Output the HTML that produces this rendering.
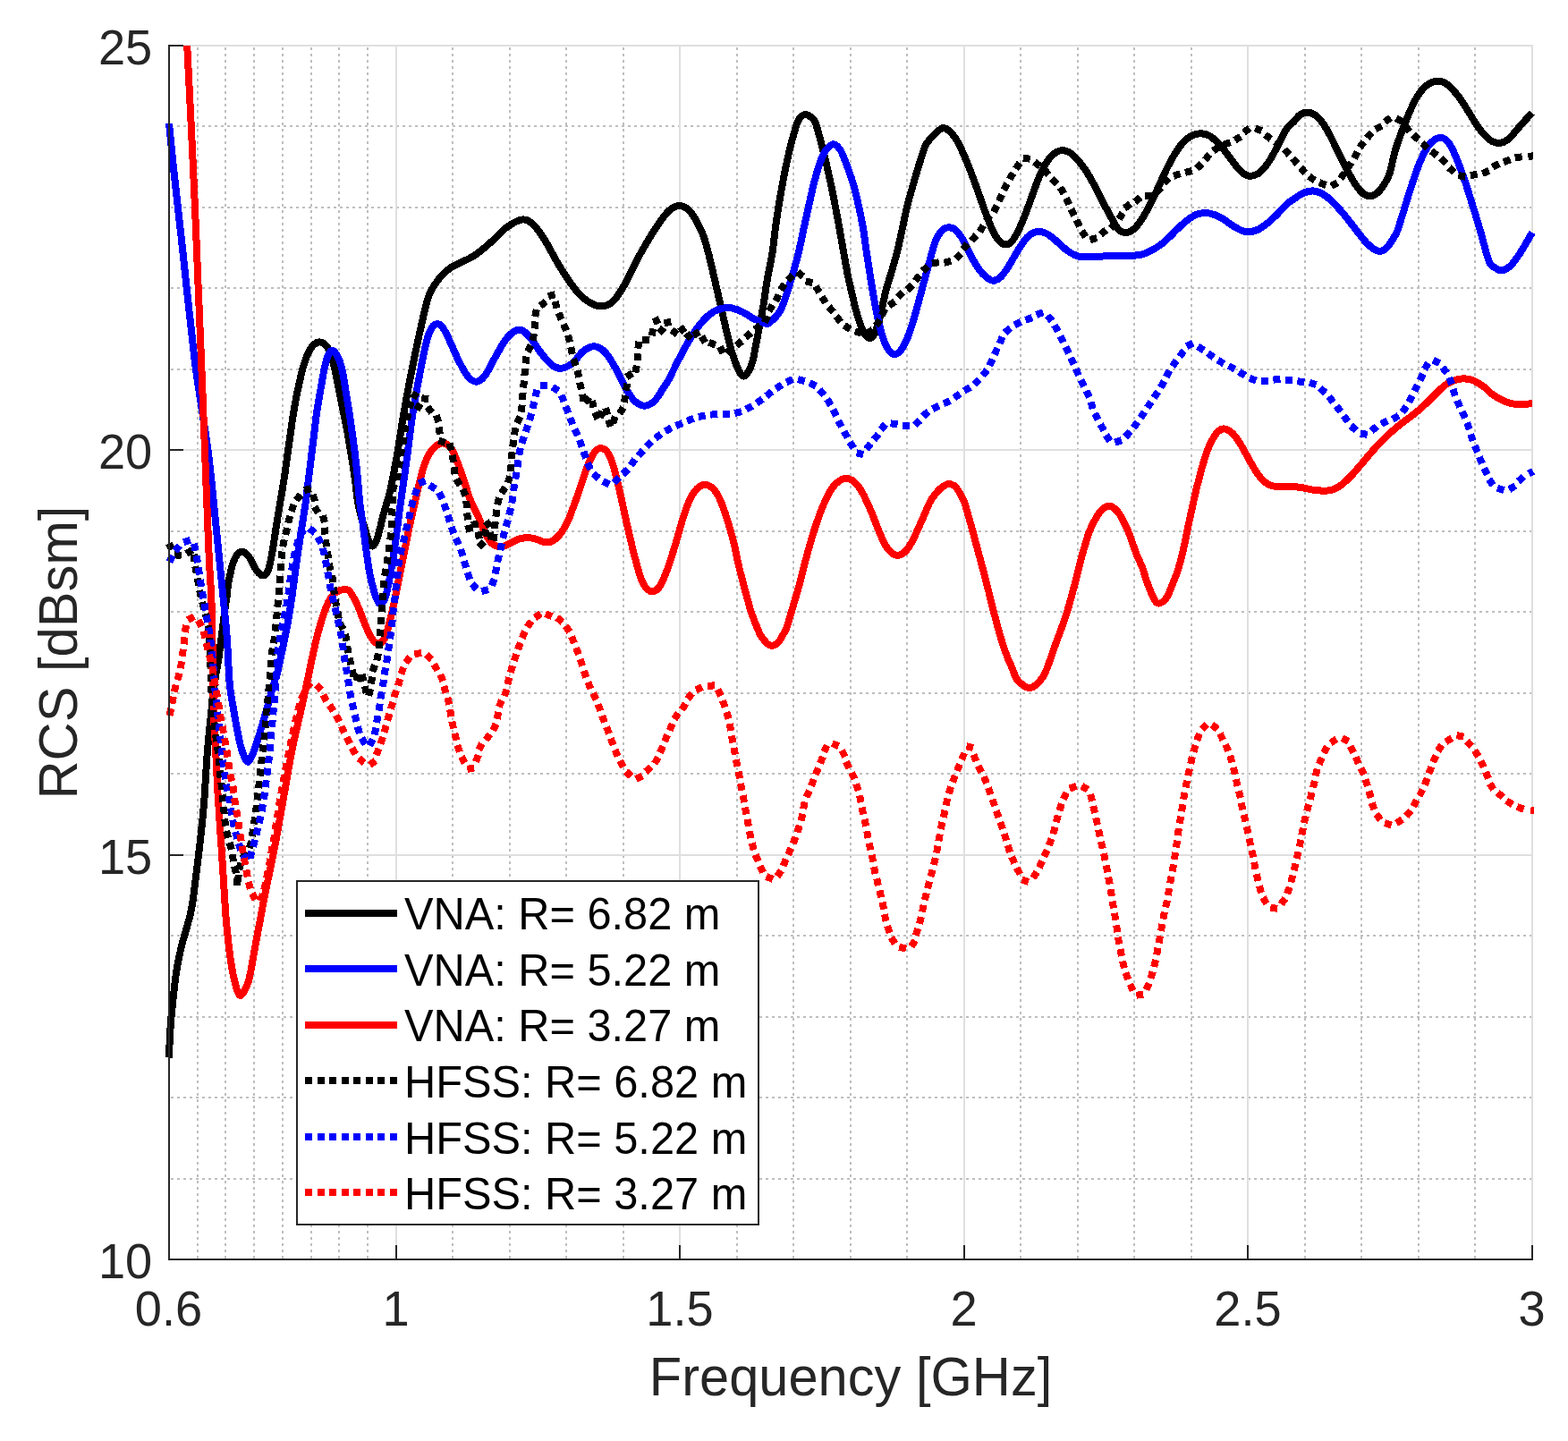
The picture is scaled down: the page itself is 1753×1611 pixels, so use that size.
<!DOCTYPE html>
<html lang="en"><head><meta charset="utf-8"><title>RCS vs Frequency</title>
<style>html,body{margin:0;padding:0;background:#fff;}body{width:1753px;height:1611px;overflow:hidden;}svg{display:block;}text{font-family:"Liberation Sans", Arial, Helvetica, sans-serif;}</style>
</head><body>
<svg xmlns="http://www.w3.org/2000/svg" width="1753" height="1611" viewBox="0 0 1753 1611">
<rect x="0" y="0" width="1753" height="1611" fill="#ffffff"/>
<g stroke="#bebebe" stroke-width="2" stroke-dasharray="3 4" fill="none" shape-rendering="crispEdges">
<line x1="221.0" y1="53.0" x2="221.0" y2="1408.0"/>
<line x1="252.0" y1="53.0" x2="252.0" y2="1408.0"/>
<line x1="284.0" y1="53.0" x2="284.0" y2="1408.0"/>
<line x1="316.0" y1="53.0" x2="316.0" y2="1408.0"/>
<line x1="348.0" y1="53.0" x2="348.0" y2="1408.0"/>
<line x1="379.0" y1="53.0" x2="379.0" y2="1408.0"/>
<line x1="411.0" y1="53.0" x2="411.0" y2="1408.0"/>
<line x1="506.0" y1="53.0" x2="506.0" y2="1408.0"/>
<line x1="570.0" y1="53.0" x2="570.0" y2="1408.0"/>
<line x1="633.0" y1="53.0" x2="633.0" y2="1408.0"/>
<line x1="697.0" y1="53.0" x2="697.0" y2="1408.0"/>
<line x1="824.0" y1="53.0" x2="824.0" y2="1408.0"/>
<line x1="887.0" y1="53.0" x2="887.0" y2="1408.0"/>
<line x1="951.0" y1="53.0" x2="951.0" y2="1408.0"/>
<line x1="1014.0" y1="53.0" x2="1014.0" y2="1408.0"/>
<line x1="1141.0" y1="53.0" x2="1141.0" y2="1408.0"/>
<line x1="1205.0" y1="53.0" x2="1205.0" y2="1408.0"/>
<line x1="1268.0" y1="53.0" x2="1268.0" y2="1408.0"/>
<line x1="1332.0" y1="53.0" x2="1332.0" y2="1408.0"/>
<line x1="1459.0" y1="53.0" x2="1459.0" y2="1408.0"/>
<line x1="1522.0" y1="53.0" x2="1522.0" y2="1408.0"/>
<line x1="1586.0" y1="53.0" x2="1586.0" y2="1408.0"/>
<line x1="1649.0" y1="53.0" x2="1649.0" y2="1408.0"/>
<line x1="191.0" y1="1318.0" x2="1713.0" y2="1318.0"/>
<line x1="191.0" y1="1227.0" x2="1713.0" y2="1227.0"/>
<line x1="191.0" y1="1137.0" x2="1713.0" y2="1137.0"/>
<line x1="191.0" y1="1046.0" x2="1713.0" y2="1046.0"/>
<line x1="191.0" y1="865.0" x2="1713.0" y2="865.0"/>
<line x1="191.0" y1="775.0" x2="1713.0" y2="775.0"/>
<line x1="191.0" y1="684.0" x2="1713.0" y2="684.0"/>
<line x1="191.0" y1="594.0" x2="1713.0" y2="594.0"/>
<line x1="191.0" y1="413.0" x2="1713.0" y2="413.0"/>
<line x1="191.0" y1="322.0" x2="1713.0" y2="322.0"/>
<line x1="191.0" y1="232.0" x2="1713.0" y2="232.0"/>
<line x1="191.0" y1="141.0" x2="1713.0" y2="141.0"/>
</g>
<g stroke="#dfdfdf" stroke-width="2" fill="none" shape-rendering="crispEdges">
<line x1="443.0" y1="50.0" x2="443.0" y2="1408.0"/>
<line x1="760.0" y1="50.0" x2="760.0" y2="1408.0"/>
<line x1="1078.0" y1="50.0" x2="1078.0" y2="1408.0"/>
<line x1="1395.0" y1="50.0" x2="1395.0" y2="1408.0"/>
<line x1="1713.0" y1="50.0" x2="1713.0" y2="1408.0"/>
<line x1="189.0" y1="956.0" x2="1714.0" y2="956.0"/>
<line x1="189.0" y1="503.0" x2="1714.0" y2="503.0"/>
<line x1="189.0" y1="51.0" x2="1714.0" y2="51.0"/>
</g>
<g fill="none" stroke-width="8" stroke-linejoin="round" stroke-linecap="butt" shape-rendering="crispEdges">
<path d="M188.9 1182.5C189.1 1178.4 189.6 1165.1 190.0 1158.0C190.4 1150.9 190.8 1145.5 191.2 1140.0C191.6 1134.5 192.1 1130.7 192.7 1125.0C193.3 1119.3 194.0 1112.2 194.7 1106.0C195.4 1099.8 196.1 1093.3 197.0 1087.5C197.9 1081.7 198.9 1076.2 200.0 1071.0C201.1 1065.8 202.1 1061.0 203.4 1056.0C204.7 1051.0 206.2 1046.2 207.7 1041.0C209.1 1035.8 210.9 1030.0 212.1 1025.0C213.3 1020.0 214.3 1015.2 215.0 1011.0C215.7 1006.8 215.2 1010.2 216.5 1000.0C217.8 989.8 220.8 966.7 222.7 950.0C224.6 933.3 226.4 918.3 227.9 900.0C229.4 881.7 230.4 858.3 231.9 840.0C233.4 821.7 235.5 803.5 236.9 790.0C238.3 776.5 239.4 767.5 240.6 758.7C241.8 749.9 243.0 746.2 244.3 737.0C245.7 727.8 247.4 713.4 248.7 703.7C249.9 694.0 251.0 685.0 251.8 678.7C252.6 672.5 253.2 670.4 253.7 666.2C254.2 662.0 254.4 657.9 255.0 653.7C255.6 649.5 256.5 645.6 257.5 641.2C258.5 636.8 259.8 631.2 261.2 627.5C262.6 623.8 264.5 620.5 266.2 618.7C267.9 616.9 269.3 616.5 271.2 616.9C273.1 617.3 275.6 619.0 277.5 621.2C279.4 623.4 280.8 627.1 282.5 630.0C284.2 632.9 285.6 636.5 287.5 638.7C289.4 641.0 291.8 643.3 293.7 643.5C295.6 643.7 297.3 642.2 298.7 640.0C300.1 637.8 300.8 634.4 301.9 630.0C302.9 625.6 304.1 619.1 305.0 613.7C305.9 608.3 306.7 602.9 307.5 597.5C308.3 592.1 309.2 586.4 310.0 581.2C310.8 576.0 311.2 573.9 312.5 566.2C313.8 558.5 316.2 544.4 317.7 535.0C319.1 525.6 320.0 518.3 321.2 510.0C322.4 501.7 323.5 493.3 324.7 485.0C325.9 476.7 327.0 468.3 328.4 460.0C329.8 451.7 331.3 443.3 333.1 435.0C334.9 426.7 337.0 416.9 339.0 410.0C341.0 403.1 343.0 397.9 345.0 393.7C347.0 389.5 349.0 386.9 351.2 385.0C353.4 383.1 355.8 382.2 358.1 382.5C360.4 382.8 363.0 384.4 365.0 386.9C367.0 389.4 368.6 393.6 370.0 397.5C371.4 401.4 372.4 404.8 373.7 410.0C374.9 415.2 376.2 422.4 377.5 428.7C378.8 434.9 379.9 441.2 381.2 447.5C382.4 453.8 383.8 459.9 385.0 466.2C386.2 472.4 387.6 478.8 388.7 485.0C389.8 491.2 390.8 497.4 391.8 503.7C392.9 509.9 394.1 516.2 395.0 522.5C395.9 528.8 396.7 534.8 397.5 541.2C398.3 547.6 399.0 555.0 400.0 561.0C401.0 567.0 402.2 572.0 403.7 577.5C405.1 583.0 407.2 589.1 408.7 593.7C410.2 598.3 411.2 602.2 412.5 605.0C413.8 607.8 414.8 610.6 416.2 610.6C417.6 610.6 419.1 608.4 420.6 605.0C422.1 601.6 423.6 595.0 425.0 590.0C426.4 585.0 427.3 580.2 428.7 575.0C430.1 569.8 432.0 564.0 433.4 559.0C434.8 554.0 435.3 553.2 437.0 545.0C438.7 536.8 441.2 524.2 443.7 510.0C446.2 495.8 448.9 476.7 451.8 460.0C454.7 443.3 458.0 426.0 461.2 410.0C464.4 394.0 467.9 377.4 471.0 364.0C474.1 350.6 476.3 338.9 479.8 329.8C483.4 320.8 488.2 315.1 492.3 309.8C496.5 304.6 498.6 302.6 504.8 298.6C511.1 294.6 522.3 290.9 529.8 286.1C537.3 281.3 543.5 275.3 549.8 269.9C556.0 264.5 561.4 257.7 567.3 253.6C573.1 249.5 579.7 245.6 584.8 245.4C589.8 245.2 593.3 248.3 597.5 252.4C601.7 256.5 605.8 263.2 610.0 269.9C614.1 276.5 618.3 285.3 622.5 292.4C626.6 299.4 630.8 306.3 635.0 312.3C639.1 318.4 643.3 324.2 647.4 328.6C651.6 333.0 655.8 336.3 659.9 338.6C664.1 340.9 668.3 342.5 672.4 342.3C676.6 342.1 680.8 341.1 684.9 337.3C689.1 333.6 693.3 326.9 697.4 319.8C701.6 312.8 705.7 302.8 709.9 294.9C714.1 286.9 718.2 279.4 722.4 272.4C726.6 265.3 730.7 258.4 734.9 252.4C739.1 246.3 743.2 239.9 747.4 236.1C751.6 232.4 755.7 229.7 759.9 229.9C764.0 230.1 768.2 232.4 772.4 237.4C776.5 242.4 781.7 252.8 784.9 259.9C788.0 267.0 789.5 274.1 791.2 280.0C792.9 285.9 793.7 289.8 794.9 295.0C796.2 300.2 797.4 305.8 798.7 311.2C799.9 316.6 801.2 322.3 802.4 327.5C803.6 332.7 804.8 337.5 805.9 342.5C807.1 347.5 808.1 352.3 809.3 357.5C810.5 362.7 811.8 368.5 813.1 373.7C814.3 378.9 815.4 383.9 816.8 388.7C818.2 393.5 819.6 398.1 821.2 402.4C822.7 406.8 824.5 411.9 826.2 414.9C827.8 417.9 829.5 420.3 831.2 420.5C832.8 420.8 834.5 418.8 836.2 416.2C837.8 413.6 839.8 409.3 841.2 404.9C842.5 400.6 843.3 394.9 844.3 389.9C845.3 384.9 846.2 380.2 847.2 374.9C848.1 369.7 849.1 364.1 850.2 358.7C851.2 353.3 852.4 347.7 853.3 342.5C854.2 337.3 854.7 332.7 855.5 327.5C856.3 322.3 856.7 319.0 858.0 311.2C859.4 303.5 862.3 290.4 863.7 281.0C865.2 271.6 865.7 263.4 866.9 254.9C868.0 246.4 869.3 238.2 870.6 229.9C872.0 221.6 873.4 213.3 875.0 204.9C876.5 196.6 878.1 188.3 880.0 179.9C881.8 171.6 884.0 162.2 886.0 155.0C888.0 147.7 890.1 140.4 891.8 136.2C893.6 132.1 894.7 131.3 896.2 130.0C897.7 128.6 899.3 128.0 901.0 128.1C902.6 128.2 904.5 129.2 906.2 130.6C907.9 131.9 909.4 132.2 911.2 136.2C913.0 140.3 914.9 147.7 916.8 155.0C918.8 162.2 921.1 171.6 923.1 179.9C925.1 188.3 926.9 196.6 928.7 204.9C930.5 213.3 932.1 221.6 933.7 229.9C935.3 238.2 936.3 242.8 938.4 254.9C940.6 267.0 944.9 292.1 946.8 302.5C948.7 312.9 948.9 312.3 950.0 317.5C951.1 322.7 952.5 328.5 953.7 333.7C955.0 338.9 956.1 343.9 957.5 348.7C958.9 353.5 960.3 358.5 961.8 362.5C963.2 366.5 964.5 369.9 966.2 372.5C967.9 375.1 970.0 377.9 971.9 378.1C973.8 378.3 976.0 376.1 977.5 373.7C979.0 371.3 980.0 367.6 981.2 363.7C982.5 359.8 983.9 354.8 985.0 350.0C986.1 345.2 987.0 339.8 988.1 335.0C989.2 330.2 990.3 325.5 991.5 321.0C992.7 316.5 994.2 312.3 995.5 308.0C996.8 303.7 998.0 299.5 999.3 295.0C1000.6 290.5 1001.7 287.2 1003.2 281.0C1004.7 274.8 1006.5 266.2 1008.3 258.0C1010.1 249.8 1011.8 240.7 1013.9 232.0C1016.0 223.3 1018.5 214.7 1021.0 206.0C1023.5 197.3 1026.4 187.5 1028.8 180.0C1031.2 172.5 1032.6 166.4 1035.5 161.2C1038.4 156.0 1043.1 151.7 1046.2 148.7C1049.4 145.7 1051.7 143.3 1054.4 143.1C1057.1 142.9 1059.9 145.1 1062.5 147.5C1065.1 149.9 1067.7 153.7 1070.0 157.5C1072.3 161.2 1074.1 165.4 1076.2 170.0C1078.3 174.6 1080.4 179.8 1082.5 185.0C1084.6 190.2 1086.6 195.6 1088.7 201.2C1090.8 206.8 1092.9 212.9 1095.0 218.7C1097.1 224.5 1099.1 230.6 1101.2 236.2C1103.3 241.8 1105.4 247.6 1107.5 252.4C1109.5 257.2 1111.6 261.7 1113.7 264.9C1115.8 268.1 1118.1 270.4 1120.0 271.8C1121.8 273.2 1123.1 273.7 1125.0 273.4C1126.8 273.1 1129.1 272.2 1131.2 269.9C1133.3 267.7 1135.4 263.9 1137.4 259.9C1139.5 256.0 1141.6 251.2 1143.7 246.2C1145.8 241.2 1147.9 235.6 1149.9 229.9C1152.0 224.3 1154.1 218.1 1156.2 212.4C1158.3 206.8 1160.3 201.0 1162.4 196.2C1164.5 191.4 1166.6 187.3 1168.7 183.7C1170.8 180.2 1172.8 177.3 1174.9 175.0C1177.0 172.7 1179.1 171.1 1181.2 170.0C1183.3 168.8 1185.1 168.1 1187.4 168.1C1189.7 168.1 1192.4 168.6 1194.9 170.0C1197.4 171.3 1199.9 173.7 1202.4 176.2C1204.9 178.7 1207.4 181.6 1209.9 185.0C1212.4 188.3 1214.9 192.0 1217.4 196.2C1219.9 200.4 1222.4 205.2 1224.9 209.9C1227.4 214.7 1229.9 220.2 1232.4 224.9C1234.9 229.7 1237.6 234.5 1239.9 238.7C1242.2 242.8 1244.2 246.8 1246.1 249.9C1248.0 253.0 1249.0 255.8 1251.2 257.4C1253.4 259.1 1256.7 260.1 1259.4 259.9C1262.1 259.7 1264.9 258.2 1267.5 256.2C1270.1 254.1 1272.5 251.0 1275.0 247.4C1277.5 243.9 1280.0 239.5 1282.5 234.9C1285.0 230.3 1287.5 225.1 1290.0 219.9C1292.5 214.7 1295.0 209.1 1297.5 203.7C1300.0 198.3 1302.5 192.5 1305.0 187.5C1307.5 182.5 1310.0 177.9 1312.5 173.7C1315.0 169.5 1317.5 165.6 1320.0 162.5C1322.5 159.3 1325.0 157.0 1327.4 155.0C1329.9 153.0 1332.2 151.5 1334.9 150.6C1337.7 149.7 1340.8 149.1 1343.7 149.4C1346.6 149.6 1349.7 150.4 1352.4 151.9C1355.1 153.3 1357.4 155.7 1359.9 158.1C1362.4 160.5 1364.9 163.2 1367.4 166.2C1369.9 169.2 1372.4 172.9 1374.9 176.2C1377.4 179.5 1379.9 183.3 1382.4 186.2C1384.9 189.1 1387.4 191.9 1389.9 193.7C1392.4 195.5 1394.7 196.7 1397.4 196.8C1400.1 196.9 1403.4 195.9 1406.2 194.3C1408.9 192.8 1411.4 190.1 1413.7 187.5C1415.9 184.9 1417.8 182.0 1419.9 178.7C1422.0 175.4 1424.1 171.4 1426.1 167.5C1428.2 163.5 1430.3 158.9 1432.4 155.0C1434.5 151.0 1436.3 146.9 1438.6 143.7C1440.9 140.6 1443.7 138.8 1446.2 136.2C1448.8 133.6 1451.0 129.9 1453.7 128.1C1456.4 126.3 1459.6 125.4 1462.5 125.6C1465.4 125.8 1468.5 127.4 1471.2 129.4C1473.9 131.3 1476.2 134.0 1478.7 137.5C1481.2 140.9 1483.7 145.4 1486.2 150.0C1488.7 154.6 1491.2 160.0 1493.7 165.0C1496.2 170.0 1498.7 175.0 1501.2 180.0C1503.7 185.0 1506.2 190.4 1508.7 194.9C1511.2 199.5 1513.7 203.9 1516.2 207.4C1518.7 211.0 1521.1 214.2 1523.7 216.2C1526.3 218.2 1529.1 219.4 1531.8 219.3C1534.5 219.2 1537.3 217.7 1539.9 215.6C1542.5 213.4 1545.1 209.8 1547.4 206.2C1549.7 202.5 1551.8 199.5 1553.7 193.7C1555.6 187.9 1557.1 178.1 1559.0 171.2C1560.9 164.3 1563.1 158.3 1565.2 152.4C1567.3 146.6 1569.4 141.4 1571.5 136.2C1573.6 131.0 1575.6 125.8 1577.7 121.2C1579.8 116.6 1581.9 112.3 1584.0 108.7C1586.1 105.2 1588.1 102.4 1590.2 100.0C1592.3 97.6 1594.4 95.8 1596.5 94.4C1598.5 92.9 1600.6 92.0 1602.7 91.5C1604.8 90.9 1606.9 90.8 1609.0 91.0C1611.0 91.1 1613.1 91.4 1615.2 92.5C1617.3 93.6 1619.4 95.5 1621.4 97.5C1623.5 99.5 1625.6 101.9 1627.7 104.3C1629.8 106.8 1631.9 109.5 1633.9 112.5C1636.0 115.5 1638.1 119.1 1640.2 122.5C1642.3 125.8 1644.4 129.1 1646.4 132.5C1648.5 135.8 1650.6 139.5 1652.7 142.5C1654.8 145.4 1656.8 147.7 1658.9 149.9C1661.0 152.2 1663.1 154.6 1665.2 156.2C1667.3 157.8 1669.7 158.7 1671.4 159.3C1673.2 159.9 1674.1 160.0 1675.8 159.9C1677.5 159.8 1679.4 159.6 1681.4 158.7C1683.4 157.8 1685.6 156.2 1687.7 154.3C1689.7 152.4 1691.8 149.8 1693.9 147.4C1696.0 145.1 1698.1 142.3 1700.2 140.0C1702.2 137.6 1704.3 135.4 1706.4 133.1C1708.5 130.8 1711.9 127.4 1713.0 126.2" stroke="#000000"/>
<path d="M189.0 137.9C189.9 146.6 192.5 173.3 194.2 189.9C196.0 206.5 197.8 222.4 199.5 237.4C201.2 252.4 202.7 265.7 204.2 279.9C205.8 294.0 207.1 307.3 208.7 322.3C210.4 337.3 212.2 354.4 214.0 369.8C215.7 385.2 216.1 392.6 219.2 414.8C222.3 437.0 229.2 479.0 232.5 503.2C235.7 527.4 237.1 545.3 238.7 560.0C240.3 574.7 240.8 580.8 241.8 591.2C242.9 601.6 243.9 612.1 245.0 622.5C246.1 632.9 247.1 643.3 248.1 653.7C249.1 664.1 250.2 674.6 251.2 685.0C252.2 695.4 253.1 702.9 254.0 716.2C254.9 729.5 255.7 752.7 256.8 765.0C257.9 777.3 259.2 781.7 260.6 790.0C262.0 798.3 263.4 807.1 265.0 815.0C266.6 822.9 268.0 831.4 270.0 837.5C272.0 843.6 274.5 851.4 276.8 851.8C279.1 852.2 281.5 845.1 283.7 840.0C285.9 834.9 287.8 827.9 289.9 821.2C292.0 814.5 294.2 806.9 296.2 800.0C298.2 793.1 299.9 786.7 301.8 780.0C303.7 773.3 305.8 765.4 307.4 760.0C309.0 754.6 308.5 759.9 311.2 747.4C313.9 734.9 320.2 705.8 323.7 685.0C327.2 664.2 329.4 643.2 332.4 622.5C335.4 601.8 339.7 575.6 341.8 561.0C343.9 546.4 343.9 543.5 345.0 535.0C346.1 526.5 347.1 518.3 348.1 510.0C349.1 501.7 350.2 493.3 351.2 485.0C352.2 476.7 353.1 468.3 354.3 460.0C355.5 451.7 357.0 443.3 358.5 435.0C360.0 426.7 361.7 416.2 363.1 410.0C364.5 403.8 365.5 400.5 366.8 397.5C368.1 394.5 369.6 392.1 371.2 391.9C372.8 391.7 374.4 393.2 376.2 396.2C378.0 399.2 380.1 403.5 381.8 410.0C383.5 416.5 384.8 426.7 386.2 435.0C387.6 443.3 389.0 451.7 390.3 460.0C391.6 468.3 392.8 476.7 393.9 485.0C395.0 493.3 396.2 501.7 397.2 510.0C398.2 518.3 399.1 526.5 399.9 535.0C400.7 543.5 401.1 551.8 402.2 561.0C403.2 570.2 405.0 581.0 406.2 590.0C407.4 599.0 408.2 606.7 409.4 615.0C410.5 623.3 411.8 632.7 413.1 640.0C414.5 647.3 416.0 653.5 417.5 658.7C419.0 663.9 420.5 668.4 421.9 671.2C423.2 674.0 424.2 675.7 425.6 675.5C427.0 675.3 428.6 673.2 430.0 670.0C431.4 666.8 432.6 661.2 433.7 656.2C434.8 651.2 435.8 645.8 436.8 640.0C437.9 634.2 439.1 627.5 440.0 621.2C440.9 615.0 441.7 608.8 442.5 602.5C443.3 596.2 444.2 590.0 445.0 583.7C445.8 577.5 445.8 577.3 447.5 565.0C449.2 552.7 452.8 527.5 455.2 510.0C457.6 492.5 459.2 476.7 461.8 460.0C464.4 443.3 468.3 423.3 470.9 410.0C473.5 396.7 475.3 387.3 477.3 380.0C479.3 372.7 481.1 368.9 483.0 366.0C484.9 363.1 486.8 362.5 488.6 362.3C490.4 362.1 492.1 362.9 494.0 365.0C495.9 367.1 496.7 368.6 499.8 374.8C502.9 381.0 508.6 394.8 512.3 402.3C516.1 409.8 519.0 415.7 522.3 419.8C525.6 423.9 529.0 426.8 532.3 426.8C535.6 426.8 538.5 424.7 542.3 419.8C546.0 414.9 550.6 404.4 554.8 397.3C558.9 390.2 562.9 382.1 567.3 377.3C571.6 372.5 576.8 368.6 581.0 368.6C585.2 368.6 588.5 372.9 592.5 377.3C596.5 381.7 600.8 389.6 605.0 394.8C609.1 400.0 613.7 405.7 617.5 408.5C621.2 411.4 623.7 412.2 627.5 411.8C631.2 411.4 635.8 409.3 640.0 406.0C644.1 402.8 648.3 395.4 652.4 392.3C656.6 389.2 660.8 386.9 664.9 387.3C669.1 387.7 673.3 390.2 677.4 394.8C681.6 399.4 686.2 408.1 689.9 414.8C693.7 421.5 696.6 429.3 699.9 435.0C703.3 440.6 706.4 445.6 709.9 448.7C713.5 451.8 717.4 453.9 721.2 453.7C724.9 453.5 728.9 451.0 732.4 447.5C735.9 443.9 739.9 436.3 742.4 432.5C744.9 428.7 744.5 430.2 747.4 424.8C750.3 419.3 755.7 407.7 759.9 399.8C764.0 391.9 768.2 384.0 772.4 377.3C776.5 370.6 780.7 364.6 784.9 359.8C789.0 355.0 793.2 351.2 797.4 348.6C801.5 346.0 806.5 345.0 809.9 344.3C813.2 343.6 814.0 343.6 817.4 344.3C820.7 345.0 825.7 346.6 829.8 348.6C834.0 350.5 838.2 354.0 842.3 356.1C846.5 358.2 851.9 360.2 854.8 361.1C857.7 361.9 856.9 363.4 859.8 361.1C862.7 358.8 868.6 354.2 872.3 347.3C876.1 340.5 878.9 330.9 882.3 319.8C885.8 308.8 890.4 291.8 893.1 281.0C895.8 270.2 896.8 263.4 898.7 254.9C900.6 246.4 902.5 238.2 904.3 229.9C906.2 221.6 907.8 213.3 910.0 204.9C912.1 196.6 915.2 186.2 917.5 179.9C919.7 173.7 921.3 170.6 923.7 167.4C926.1 164.3 929.2 161.2 931.8 161.2C934.4 161.2 937.1 164.3 939.3 167.4C941.5 170.6 942.5 173.7 944.9 179.9C947.3 186.2 951.2 196.6 953.7 204.9C956.2 213.3 958.1 221.6 959.9 229.9C961.8 238.2 963.5 246.4 964.9 254.9C966.4 263.4 966.6 267.7 968.7 281.0C970.7 294.3 974.6 320.0 977.3 334.8C979.9 349.6 982.2 360.6 984.8 369.8C987.3 379.0 989.7 385.4 992.5 389.8C995.2 394.2 998.3 396.5 1001.2 396.0C1004.1 395.6 1007.3 391.7 1010.0 387.3C1012.7 382.9 1015.0 376.9 1017.5 369.8C1020.0 362.7 1022.5 353.6 1025.0 344.8C1027.4 336.1 1029.3 328.8 1032.4 317.3C1035.6 305.9 1041.0 285.1 1043.7 276.2C1046.5 267.2 1046.9 267.0 1048.7 263.7C1050.6 260.3 1052.8 257.7 1055.0 256.2C1057.2 254.6 1059.6 254.1 1061.9 254.3C1064.2 254.5 1066.3 255.2 1068.7 257.4C1071.1 259.6 1073.7 263.3 1076.2 267.4C1078.7 271.6 1081.2 277.6 1083.7 282.4C1086.2 287.2 1088.7 292.2 1091.2 296.1C1093.7 300.1 1096.2 303.4 1098.7 306.1C1101.2 308.8 1104.0 311.1 1106.2 312.4C1108.4 313.6 1109.8 314.1 1111.8 313.6C1113.9 313.2 1116.3 312.2 1118.7 309.9C1121.1 307.6 1123.7 303.6 1126.2 299.9C1128.7 296.1 1131.2 291.6 1133.7 287.4C1136.2 283.2 1138.7 278.7 1141.2 274.9C1143.7 271.2 1146.2 267.4 1148.7 264.9C1151.2 262.4 1153.8 260.9 1156.2 259.9C1158.6 258.9 1160.6 258.6 1163.1 258.9C1165.6 259.2 1168.6 260.4 1171.2 261.8C1173.8 263.2 1176.2 265.3 1178.7 267.4C1181.2 269.5 1183.7 272.1 1186.2 274.3C1188.7 276.5 1191.2 278.8 1193.7 280.5C1196.2 282.3 1198.7 283.8 1201.2 284.9C1203.7 286.0 1205.9 286.7 1208.7 287.2C1211.4 287.6 1214.3 287.5 1217.4 287.4C1220.5 287.3 1223.6 287.0 1227.4 286.8C1231.1 286.6 1236.6 286.3 1239.9 286.2C1243.2 286.0 1245.2 286.1 1247.3 286.1C1249.4 286.1 1249.5 286.2 1252.5 286.1C1255.4 286.1 1260.8 286.2 1265.0 285.9C1269.1 285.6 1273.7 285.3 1277.5 284.3C1281.2 283.3 1284.1 281.7 1287.5 279.9C1290.8 278.1 1294.1 276.2 1297.5 273.7C1300.8 271.2 1304.1 268.0 1307.5 264.9C1310.8 261.8 1314.1 258.0 1317.5 254.9C1320.8 251.8 1324.1 248.7 1327.4 246.2C1330.8 243.7 1334.1 241.3 1337.4 239.9C1340.8 238.6 1344.1 238.1 1347.4 238.1C1350.8 238.1 1354.1 238.8 1357.4 239.9C1360.8 241.1 1364.1 242.9 1367.4 244.9C1370.8 246.9 1374.1 249.7 1377.4 251.8C1380.8 253.9 1384.3 256.2 1387.4 257.4C1390.5 258.7 1393.0 259.4 1396.2 259.3C1399.3 259.2 1403.0 258.1 1406.2 256.8C1409.3 255.4 1412.0 253.4 1414.9 251.2C1417.8 249.0 1420.7 246.4 1423.6 243.7C1426.6 241.0 1429.5 237.8 1432.4 234.9C1435.3 232.0 1438.6 228.4 1441.1 226.2C1443.7 224.0 1445.0 223.5 1447.5 221.8C1450.0 220.1 1452.9 217.6 1456.2 216.2C1459.6 214.8 1463.9 213.4 1467.5 213.4C1471.0 213.4 1474.4 214.7 1477.5 216.2C1480.6 217.7 1483.3 219.9 1486.2 222.4C1489.1 224.9 1492.1 228.1 1495.0 231.2C1497.9 234.3 1500.8 237.6 1503.7 241.2C1506.6 244.7 1509.5 248.7 1512.5 252.4C1515.4 256.2 1518.5 260.3 1521.2 263.7C1523.9 267.0 1526.2 269.9 1528.7 272.4C1531.2 274.9 1533.9 277.3 1536.2 278.6C1538.5 280.0 1540.2 281.0 1542.4 280.8C1544.7 280.6 1546.9 280.7 1549.9 277.4C1553.0 274.1 1558.1 266.4 1560.9 261.0C1563.6 255.6 1564.7 250.3 1566.5 244.9C1568.3 239.5 1569.8 234.1 1571.5 228.7C1573.1 223.2 1574.8 217.6 1576.5 212.4C1578.1 207.2 1579.8 202.2 1581.5 197.4C1583.1 192.6 1584.8 187.8 1586.5 183.7C1588.1 179.5 1589.8 175.8 1591.5 172.4C1593.1 169.1 1594.8 166.1 1596.5 163.7C1598.1 161.3 1599.8 159.5 1601.5 158.1C1603.1 156.6 1604.8 155.6 1606.5 154.9C1608.1 154.3 1609.8 153.7 1611.5 153.9C1613.1 154.2 1614.8 154.8 1616.5 156.2C1618.1 157.6 1619.8 159.7 1621.4 162.4C1623.1 165.1 1624.8 168.7 1626.4 172.4C1628.1 176.2 1629.8 180.6 1631.4 184.9C1633.1 189.3 1634.8 193.9 1636.4 198.7C1638.1 203.5 1639.8 208.5 1641.4 213.7C1643.1 218.9 1644.8 224.5 1646.4 229.9C1648.1 235.3 1649.9 241.0 1651.4 246.1C1653.0 251.3 1653.6 253.3 1655.8 261.0C1658.0 268.7 1662.1 285.9 1664.8 292.4C1667.5 298.8 1669.8 298.2 1672.3 299.9C1674.8 301.5 1676.9 303.0 1679.8 302.3C1682.7 301.7 1686.5 299.4 1689.8 296.1C1693.1 292.8 1696.9 286.7 1699.8 282.4C1702.7 278.0 1705.1 273.6 1707.3 269.9C1709.5 266.1 1712.1 261.5 1713.0 259.9" stroke="#0000ff"/>
<path d="M209.2 51.0C210.0 65.8 212.3 109.7 213.7 139.9C215.2 170.2 216.6 202.0 218.0 232.4C219.3 262.8 220.5 291.9 221.7 322.3C223.0 352.7 223.9 375.2 225.5 414.8C227.1 454.4 229.8 525.4 231.2 560.0C232.6 594.6 232.8 601.7 233.7 622.5C234.6 643.3 236.1 657.1 236.9 685.0C237.7 712.9 238.0 764.2 238.7 790.0C239.4 815.8 240.4 823.3 241.2 840.0C242.0 856.7 242.6 871.7 243.7 890.0C244.8 908.3 246.5 931.7 247.7 950.0C248.9 968.3 250.1 987.5 250.9 1000.0C251.7 1012.5 251.8 1016.7 252.5 1025.0C253.2 1033.3 254.2 1042.3 255.0 1050.0C255.8 1057.7 256.6 1064.8 257.5 1071.0C258.4 1077.2 259.3 1082.7 260.2 1087.5C261.1 1092.3 262.2 1096.5 263.1 1100.0C264.0 1103.5 264.7 1106.5 265.6 1108.7C266.5 1110.9 267.7 1112.8 268.7 1113.0C269.7 1113.2 270.8 1111.5 271.8 1110.0C272.9 1108.5 274.0 1106.2 275.0 1104.0C276.0 1101.8 277.1 1099.7 278.0 1096.5C278.9 1093.3 279.6 1089.8 280.5 1085.0C281.4 1080.2 282.4 1073.8 283.5 1068.0C284.6 1062.2 285.5 1057.2 286.8 1050.0C288.1 1042.8 289.9 1033.3 291.5 1025.0C293.1 1016.7 293.7 1012.5 296.2 1000.0C298.7 987.5 303.3 966.7 306.5 950.0C309.7 933.3 312.3 918.3 315.6 900.0C318.9 881.7 322.6 858.3 326.2 840.0C329.8 821.7 334.5 803.2 337.4 790.0C340.3 776.8 341.8 769.8 343.7 761.0C345.6 752.2 346.8 745.5 348.7 737.0C350.6 728.5 352.8 718.0 354.9 710.0C357.0 702.0 359.0 695.0 361.1 688.7C363.2 682.5 365.3 676.7 367.4 672.5C369.5 668.3 371.5 665.8 373.6 663.7C375.7 661.6 378.0 660.7 379.9 660.0C381.8 659.3 383.2 659.3 384.9 659.3C386.6 659.3 388.3 658.6 390.0 660.0C391.7 661.4 393.3 664.6 395.0 667.5C396.7 670.4 398.3 673.8 400.0 677.5C401.7 681.2 403.3 685.8 405.0 690.0C406.7 694.2 408.3 698.8 410.0 702.5C411.7 706.2 413.3 709.8 415.0 712.5C416.7 715.2 418.3 717.6 420.0 718.7C421.7 719.8 423.3 719.8 425.0 719.0C426.7 718.2 428.6 716.5 430.0 713.7C431.4 711.0 432.4 706.9 433.7 702.5C434.9 698.1 436.2 692.7 437.5 687.5C438.8 682.3 439.9 677.0 441.2 671.2C442.4 665.4 443.8 658.8 445.0 652.5C446.2 646.2 447.4 640.0 448.7 633.7C449.9 627.5 451.2 621.2 452.5 615.0C453.8 608.8 454.9 602.2 456.2 596.2C457.4 590.2 458.8 584.3 460.0 578.7C461.2 573.1 462.3 568.8 463.7 562.5C465.1 556.2 467.0 547.7 468.6 541.0C470.2 534.3 471.7 528.0 473.6 522.4C475.5 516.8 477.6 511.3 479.9 507.4C482.2 503.4 484.7 500.7 487.4 498.7C490.1 496.7 493.2 494.9 496.1 495.5C499.0 496.1 502.4 498.6 504.9 502.0C507.4 505.4 509.3 511.5 511.2 516.2C513.1 520.9 514.5 525.2 516.2 530.0C517.9 534.8 519.5 540.0 521.2 545.0C522.9 550.0 524.1 555.0 526.2 560.0C528.3 565.0 531.6 570.4 533.7 575.0C535.8 579.6 537.0 583.5 538.7 587.5C540.4 591.5 542.0 595.6 543.7 598.7C545.4 601.8 547.0 604.3 548.7 606.2C550.4 608.1 552.0 609.2 553.7 610.0C555.4 610.8 556.8 611.2 558.7 611.2C560.6 611.2 562.8 610.7 564.9 610.0C567.0 609.3 569.0 607.8 571.1 606.8C573.2 605.8 575.3 604.5 577.4 603.7C579.5 602.9 581.5 602.2 583.6 601.8C585.7 601.4 587.8 601.2 589.9 601.2C592.0 601.2 594.0 601.4 596.1 601.8C598.2 602.2 600.2 603.0 602.4 603.7C604.5 604.4 606.7 605.9 609.0 606.2C611.3 606.5 614.0 606.4 616.2 605.6C618.5 604.7 620.4 603.2 622.5 601.2C624.6 599.2 626.7 596.8 628.7 593.7C630.8 590.6 632.9 587.0 635.0 582.4C637.1 577.9 639.1 571.8 641.2 566.2C643.3 560.6 645.4 554.7 647.5 548.7C649.6 542.7 651.6 535.8 653.7 530.0C655.8 524.1 657.9 518.1 660.0 513.7C662.1 509.4 664.1 505.8 666.2 503.7C668.3 501.7 670.4 501.0 672.5 501.2C674.5 501.4 676.8 502.7 678.7 505.0C680.6 507.3 682.3 511.2 683.7 515.0C685.2 518.7 686.2 522.9 687.5 527.5C688.7 532.1 690.0 537.3 691.2 542.5C692.5 547.7 693.7 553.1 695.0 558.7C696.2 564.3 697.4 570.6 698.7 576.2C699.9 581.8 701.2 587.0 702.4 592.4C703.7 597.8 704.9 603.5 706.2 608.7C707.4 613.9 708.7 618.9 709.9 623.7C711.2 628.5 712.4 633.2 713.7 637.4C714.9 641.6 716.0 645.3 717.4 648.7C718.9 652.0 720.5 655.3 722.4 657.4C724.4 659.5 727.0 661.4 729.3 661.4C731.6 661.4 734.2 659.5 736.2 657.4C738.2 655.3 739.5 652.2 741.2 648.7C742.8 645.1 744.5 640.7 746.2 636.2C747.8 631.6 749.5 626.4 751.2 621.2C752.8 616.0 754.5 610.5 756.2 604.9C757.8 599.3 759.5 593.1 761.2 587.4C762.8 581.8 764.5 576.0 766.2 571.2C767.8 566.4 769.5 562.2 771.2 558.7C772.8 555.2 774.3 552.5 776.2 550.0C778.0 547.5 780.3 545.1 782.4 543.7C784.5 542.4 786.6 541.7 788.6 541.8C790.7 541.9 792.8 542.8 794.9 544.3C797.0 545.9 799.3 548.4 801.1 551.2C803.0 554.0 804.5 557.2 806.1 561.2C807.8 565.2 809.5 569.9 811.1 574.9C812.8 579.9 814.5 585.4 816.1 591.2C817.8 597.0 819.7 603.7 821.1 609.9C822.6 616.2 823.5 622.2 825.0 628.7C826.5 635.1 828.3 642.2 830.0 648.7C831.7 655.1 833.3 661.4 835.0 667.4C836.7 673.4 838.1 679.3 840.0 684.9C841.9 690.5 844.5 696.7 846.2 701.0C848.0 705.3 848.6 707.4 850.5 710.5C852.4 713.6 855.6 717.6 857.8 719.5C860.0 721.4 861.4 722.1 863.5 721.8C865.6 721.5 868.4 719.7 870.5 717.5C872.6 715.3 874.5 711.2 876.0 708.5C877.5 705.8 878.3 705.0 879.7 701.0C881.2 697.0 883.0 689.9 884.7 684.3C886.4 678.7 888.0 673.1 889.7 667.4C891.4 661.7 892.8 657.0 894.7 649.9C896.6 642.8 898.4 634.3 901.0 624.9C903.5 615.6 907.4 602.1 909.9 593.8C912.5 585.5 914.1 581.2 916.4 575.0C918.8 568.7 921.8 561.4 924.3 556.2C926.9 551.0 929.4 546.8 931.8 543.7C934.2 540.6 936.4 539.0 938.7 537.5C941.0 536.0 943.3 534.7 945.6 534.6C947.8 534.5 950.2 535.5 952.4 536.9C954.6 538.2 956.8 540.3 958.7 542.5C960.5 544.7 962.0 547.1 963.7 550.0C965.3 552.9 967.0 556.4 968.7 560.0C970.3 563.5 972.0 567.3 973.7 571.2C975.3 575.2 977.0 579.5 978.7 583.7C980.3 587.9 982.0 592.2 983.7 596.2C985.3 600.2 987.0 604.3 988.7 607.4C990.3 610.6 992.0 613.0 993.7 614.9C995.3 616.9 997.0 618.3 998.6 619.3C1000.3 620.3 1002.0 620.9 1003.6 620.9C1005.3 620.9 1007.0 620.3 1008.6 619.3C1010.3 618.3 1012.0 616.9 1013.6 614.9C1015.3 613.0 1017.0 610.4 1018.6 607.4C1020.3 604.5 1022.0 601.0 1023.6 597.4C1025.3 593.9 1027.0 589.9 1028.6 586.2C1030.3 582.5 1031.9 578.9 1033.6 575.0C1035.4 571.0 1037.2 566.0 1039.0 562.5C1040.8 559.0 1042.4 556.7 1044.5 554.0C1046.6 551.3 1049.2 548.2 1051.4 546.2C1053.6 544.2 1055.9 542.7 1057.7 541.9C1059.5 541.1 1060.3 540.7 1062.2 541.2C1064.1 541.7 1066.4 541.9 1068.9 545.0C1071.4 548.1 1075.2 554.8 1077.5 560.0C1079.7 565.2 1080.8 570.6 1082.5 576.2C1084.1 581.9 1085.7 587.4 1087.5 593.9C1089.2 600.3 1091.3 608.1 1093.1 615.0C1094.9 621.8 1096.5 627.5 1098.5 635.0C1100.4 642.5 1102.9 651.8 1105.0 659.9C1107.0 668.1 1109.1 676.8 1111.0 684.1C1112.8 691.3 1114.4 697.3 1116.2 703.7C1118.0 710.1 1120.1 717.0 1121.8 722.4C1123.6 727.8 1125.2 732.0 1126.8 736.1C1128.5 740.3 1130.3 743.7 1131.8 747.4C1133.4 751.1 1134.2 755.4 1136.2 758.5C1138.2 761.6 1141.3 764.2 1143.8 766.0C1146.3 767.8 1148.8 769.1 1151.3 769.0C1153.8 768.9 1156.3 767.5 1158.8 765.3C1161.3 763.1 1164.4 759.0 1166.4 756.0C1168.4 753.0 1168.4 753.0 1170.5 747.4C1172.7 741.8 1176.7 729.7 1179.3 722.4C1181.9 715.1 1183.9 710.1 1186.2 703.7C1188.5 697.3 1191.1 690.3 1193.0 684.1C1195.0 677.8 1196.4 672.3 1198.0 666.2C1199.7 660.1 1201.2 654.7 1203.0 647.4C1204.9 640.2 1207.5 629.1 1209.3 622.5C1211.0 615.8 1212.2 612.2 1213.7 607.5C1215.1 602.7 1216.0 598.6 1218.0 593.9C1220.0 589.1 1223.1 582.8 1225.5 578.7C1227.9 574.7 1229.9 571.6 1232.4 569.4C1234.9 567.2 1238.2 565.7 1240.5 565.6C1242.8 565.5 1244.2 566.9 1246.2 568.7C1248.2 570.4 1250.0 572.0 1252.5 576.2C1255.0 580.4 1258.9 588.6 1261.2 593.8C1263.5 599.0 1264.6 602.9 1266.2 607.4C1267.9 612.0 1269.4 616.6 1271.2 621.2C1273.1 625.7 1275.4 629.9 1277.2 634.9C1279.1 639.9 1280.2 645.1 1282.5 651.1C1284.8 657.2 1288.7 667.2 1291.0 671.1C1293.4 675.0 1294.5 675.0 1296.8 674.3C1299.1 673.7 1302.1 671.8 1304.8 667.3C1307.5 662.9 1310.9 652.8 1313.1 647.4C1315.2 642.0 1315.9 641.1 1317.7 634.9C1319.5 628.7 1322.4 616.8 1324.0 609.9C1325.5 603.1 1325.9 600.0 1327.2 593.8C1328.5 587.6 1330.1 580.2 1331.8 572.4C1333.5 564.7 1335.4 555.8 1337.4 547.4C1339.5 539.1 1341.9 529.8 1343.9 522.5C1346.0 515.1 1348.0 508.6 1349.9 503.4C1351.9 498.1 1353.5 494.8 1355.6 491.2C1357.6 487.7 1360.2 483.8 1362.4 481.9C1364.6 479.9 1366.6 479.4 1368.7 479.4C1370.8 479.4 1372.8 480.4 1374.9 481.9C1377.0 483.3 1379.1 485.5 1381.2 488.1C1383.3 490.7 1385.3 494.0 1387.4 497.5C1389.5 500.9 1391.6 505.0 1393.7 508.7C1395.7 512.5 1397.8 516.4 1399.9 520.0C1402.0 523.5 1404.1 527.0 1406.2 530.0C1408.2 532.9 1410.3 535.5 1412.4 537.5C1414.5 539.4 1416.6 540.8 1418.6 541.8C1420.7 542.9 1422.4 543.3 1424.9 543.7C1427.4 544.1 1429.7 543.9 1433.6 544.0C1437.6 544.1 1444.8 544.0 1448.7 544.3C1452.7 544.6 1454.6 545.0 1457.5 545.5C1460.4 546.1 1463.3 546.9 1466.2 547.4C1469.1 547.9 1472.3 548.2 1475.0 548.4C1477.7 548.6 1480.0 548.8 1482.5 548.7C1485.0 548.5 1487.5 548.2 1490.0 547.4C1492.5 546.6 1495.0 545.3 1497.5 543.7C1500.0 542.0 1502.5 539.7 1505.0 537.4C1507.5 535.1 1510.0 532.6 1512.5 529.9C1515.0 527.2 1517.5 524.1 1520.0 521.2C1522.5 518.3 1525.0 515.4 1527.4 512.4C1529.9 509.5 1532.4 506.5 1534.9 503.7C1537.4 500.9 1539.9 498.2 1542.4 495.6C1544.9 493.0 1547.4 490.5 1549.9 488.1C1552.4 485.7 1554.9 483.4 1557.4 481.2C1559.9 479.0 1562.4 476.9 1564.9 475.0C1567.4 473.0 1569.9 471.2 1572.4 469.3C1574.9 467.5 1577.4 465.7 1579.9 463.7C1582.4 461.7 1584.9 459.7 1587.4 457.5C1589.9 455.3 1592.4 453.0 1594.9 450.6C1597.4 448.2 1599.9 445.6 1602.4 443.1C1604.9 440.6 1607.4 437.9 1609.9 435.6C1612.4 433.3 1614.9 431.0 1617.4 429.4C1619.9 427.7 1622.4 426.5 1624.9 425.6C1627.4 424.7 1630.1 424.1 1632.4 423.7C1634.7 423.4 1636.3 423.3 1638.6 423.5C1640.9 423.7 1643.8 424.2 1646.1 425.0C1648.4 425.8 1650.2 426.9 1652.4 428.1C1654.5 429.4 1656.5 430.5 1659.0 432.5C1661.5 434.5 1664.7 437.9 1667.3 440.0C1669.9 442.1 1672.3 443.5 1674.8 445.0C1677.3 446.4 1679.8 447.7 1682.3 448.7C1684.8 449.8 1686.9 450.7 1689.8 451.2C1692.7 451.8 1695.9 452.0 1699.8 452.0C1703.7 452.0 1710.8 451.3 1713.0 451.2" stroke="#ff0000"/>
<path d="M188.7 607.5L192.1 614.7M194.9 620.2L202.9 621.2M208.3 619.0L215.1 614.8M216.7 619.6L217.3 627.6M218.2 633.1L219.7 640.9M220.7 646.4L222.1 654.3M223.2 659.8L224.7 667.6M226.0 673.0L228.0 680.8M229.6 686.1L231.8 693.8M232.8 699.3L233.7 707.2M234.2 712.8L234.6 720.8M234.9 726.3L235.2 734.3M235.3 739.9L235.6 747.9M235.7 753.5L236.0 761.5M236.2 767.0L236.6 775.0M237.0 780.6L237.8 788.5M238.4 794.1L239.0 802.1M239.5 807.6L240.3 815.6M241.0 821.1L242.2 829.0M243.0 834.5L244.0 842.4M244.6 848.0L245.4 855.9M245.9 861.5L246.6 869.5M247.3 875.0L248.3 882.9M248.8 888.5L249.5 896.4M250.0 902.0L250.7 910.0M251.3 915.5L252.0 923.5M253.0 929.0L255.0 936.7M256.6 942.0L258.9 949.7M259.9 955.2L260.9 963.1M262.0 968.6L263.9 976.4M264.7 981.9L265.1 989.9M265.9 985.9L266.7 977.9M267.4 972.4L269.1 964.6M271.3 959.4L275.0 952.4M278.6 948.0L281.5 940.5M281.8 934.9L283.1 927.0M283.9 921.4L285.1 913.5M286.0 908.0L286.9 900.1M287.5 894.5L288.4 886.6M289.0 881.1L290.0 873.1M290.6 867.6L291.5 859.6M292.1 854.1L293.0 846.2M293.6 840.6L294.5 832.7M295.3 827.2L296.1 819.2M296.5 813.6L297.2 805.7M297.7 800.1L298.4 792.2M299.0 786.6L299.8 778.7M300.2 773.1L301.0 765.1M301.5 759.6L302.2 751.6M302.5 746.1L303.0 738.1M303.5 732.5L304.8 724.6M305.9 719.2L307.1 711.3M307.8 705.7L308.6 697.8M309.1 692.2L309.8 684.3M310.3 678.7L311.0 670.7M311.6 665.2L312.2 657.2M312.5 651.7L313.0 643.7M313.5 638.1L314.1 630.2M314.5 624.6L315.4 616.6M316.2 611.1L317.7 603.3M319.2 597.9L321.0 590.1M322.3 584.7L324.2 576.9M325.7 571.6L328.5 564.1M331.0 559.1L336.3 553.1M340.0 548.2L347.8 546.3M349.9 552.8L352.0 560.5M351.7 566.4L355.6 573.4M361.0 576.2L362.8 584.0M362.6 589.7L363.3 597.6M363.8 603.2L365.1 611.1M366.1 616.6L367.0 624.5M367.6 630.1L369.6 637.8M371.2 643.2L372.3 651.1M372.9 656.6L373.9 664.6M374.7 670.1L376.1 677.9M377.4 683.4L378.7 691.3M379.9 696.7L383.8 703.7M386.1 708.8L387.5 716.7M388.2 722.2L389.6 730.1M390.7 735.5L392.4 743.3M393.7 748.8L395.5 756.6M398.1 761.3L401.5 754.0M404.5 753.9L406.6 761.7M407.9 767.1L409.6 774.9M412.1 777.7L414.1 770.0M415.1 764.5L415.9 756.5M416.3 750.9L419.2 743.5M421.4 738.4L423.0 730.5M423.7 725.0L424.2 717.0M424.5 711.4L425.2 703.5M425.7 697.9L426.5 690.0M427.0 684.4L427.3 676.4M427.5 670.8L428.2 662.9M428.8 657.3L429.4 649.4M430.0 643.8L431.5 636.0M432.5 630.5L433.7 622.6M434.5 617.1L435.5 609.1M436.2 603.6L437.1 595.6M437.5 590.1L437.9 582.1M438.1 576.5L438.4 568.5M438.7 563.0L438.8 555.0M438.7 549.3L440.9 541.7M443.4 536.6L445.0 528.8M445.7 523.2L447.0 515.3M447.9 509.9L449.2 502.0M450.3 496.5L451.6 488.6M452.3 483.1L453.6 475.2M454.8 469.7L456.4 461.9M457.6 456.5L459.7 448.8M460.3 439.9L467.2 444.0M464.6 452.7L471.3 457.0M471.2 445.1L479.1 446.2M478.0 454.8L482.8 461.3M487.7 464.4L490.3 471.9M491.0 477.5L491.7 485.5M490.4 492.5L498.0 495.0M502.6 495.6L504.6 503.3M505.6 508.8L507.0 516.7M507.8 522.2L508.6 530.2M510.0 535.5L514.4 542.3M517.4 547.0L520.7 554.3M521.3 559.8L521.8 567.8M522.2 573.4L523.0 581.3M523.2 587.0L525.3 594.7M526.7 586.8L534.7 585.8M534.4 594.5L535.9 602.4M535.4 611.5L541.2 605.9M541.2 599.6L543.2 591.9M543.2 582.6L548.1 589.0M547.7 595.1L549.7 602.9M551.8 604.6L552.6 596.7M553.0 591.1L553.8 583.2M554.4 577.6L555.2 569.7M556.1 564.2L558.1 556.4M560.5 551.4L565.0 544.8M567.8 539.9L570.1 532.3M571.1 526.8L571.6 518.8M572.0 513.2L572.6 505.3M573.2 499.7L574.4 491.8M575.1 486.3L576.1 478.3M577.8 473.0L581.4 465.9M583.0 460.6L583.6 452.6M583.9 447.0L584.6 439.1M585.1 433.5L585.9 425.5M586.4 420.0L587.0 412.0M587.5 406.5L588.4 398.5M589.9 393.2L593.7 386.1M595.6 380.9L597.1 373.0M597.9 367.5L598.5 359.5M598.1 353.9L599.9 346.1M604.0 342.1L610.3 337.1M612.9 331.1L620.6 329.1M620.7 336.9L622.3 344.7M624.5 349.9L627.7 357.2M630.0 362.3L633.1 369.6M635.1 374.8L637.0 382.6M638.1 388.1L639.9 395.9M641.1 401.3L643.8 408.8M645.7 414.1L647.2 421.9M648.1 427.4L649.9 435.2M651.2 440.7L652.2 448.6M653.8 450.4L658.5 443.9M662.1 447.8L663.6 455.6M665.2 461.0L668.3 468.4M671.1 467.2L673.1 459.4M677.0 456.1L679.2 463.8M680.2 469.3L682.7 476.9M685.2 473.2L687.9 465.7M692.7 462.4L696.9 455.6M697.7 449.9L699.3 442.1M699.9 436.6L701.2 428.7M700.4 421.7L706.9 417.2M710.2 416.6L711.9 408.8M712.5 403.2L713.1 395.3M713.3 389.7L714.2 381.7M718.1 379.5L726.1 380.4M728.6 375.2L730.3 367.4M730.2 360.1L737.5 357.0M736.5 366.8L742.6 371.9M742.4 361.2L750.3 359.9M750.8 369.0L757.3 373.6M760.4 365.2L765.2 371.6M766.9 378.3L772.9 373.0M776.5 369.5L780.5 376.5M783.0 381.5L789.9 377.5M792.5 382.7L799.9 385.8M804.8 387.5L808.4 394.7M812.6 394.7L818.3 389.0M823.2 386.3L829.4 381.3M833.5 377.4L839.5 372.1M843.6 368.3L850.2 363.8M854.9 360.6L858.2 353.3M859.5 347.8L863.9 341.1M867.3 336.7L870.5 329.4M872.6 324.2L877.1 317.5M880.8 313.4L886.4 307.7M891.5 304.2L897.8 309.2M900.6 314.4L908.4 316.2M912.0 320.0L916.0 326.9M918.7 331.8L923.0 338.5M926.6 342.9L931.7 349.0M934.9 353.5L939.8 359.9M943.8 363.8L950.5 368.2M955.7 370.3L963.3 372.7M969.1 373.0L975.8 368.6M979.2 364.1L983.8 357.6M985.9 352.4L989.4 345.2M993.8 341.7L1000.4 337.2M1003.6 332.5L1009.2 326.8M1014.2 324.2L1020.0 318.7M1023.2 314.0L1028.1 307.7M1031.4 303.2L1037.2 297.6M1041.9 294.5L1049.8 293.2M1055.5 293.7L1063.2 291.7M1068.6 289.5L1074.2 283.9M1076.4 278.5L1081.8 272.7M1086.0 269.0L1091.5 263.1M1095.3 259.1L1099.4 252.2M1101.9 247.2L1107.1 241.1M1110.9 237.0L1114.8 230.0M1117.0 224.9L1120.1 217.5M1122.1 212.3L1125.9 205.2M1128.7 200.4L1132.7 193.5M1135.7 188.8L1140.1 182.1M1143.7 177.0L1151.6 177.6M1156.4 181.1L1162.9 185.8M1167.1 189.5L1172.5 195.4M1175.9 199.8L1181.6 205.5M1185.3 209.6L1189.5 216.4M1192.0 221.4L1195.3 228.7M1197.5 233.8L1201.0 241.0M1203.6 245.9L1206.8 253.3M1209.3 258.3L1213.9 264.8M1218.6 268.2L1226.3 266.0M1230.5 262.1L1236.8 257.2M1242.1 255.2L1247.7 249.5M1251.0 244.9L1255.2 238.1M1257.2 232.7L1263.8 228.0M1268.8 225.7L1275.0 220.6M1280.2 219.3L1288.2 219.1M1292.5 215.3L1297.9 209.5M1301.1 204.9L1306.9 199.3M1312.0 196.8L1319.5 194.1M1324.9 192.8L1332.7 190.9M1337.8 188.5L1343.6 183.0M1347.2 178.8L1352.3 172.6M1356.3 168.7L1362.9 164.2M1367.9 161.7L1375.5 159.3M1380.5 156.9L1387.2 152.6M1390.7 148.1L1397.1 143.3M1403.2 143.4L1410.6 146.2M1414.4 150.6L1420.9 155.3M1425.5 158.5L1431.7 163.5M1435.9 167.1L1441.5 172.9M1445.1 177.1L1450.4 183.1M1454.1 187.3L1459.4 193.3M1463.4 197.2L1470.0 201.7M1475.0 204.1L1482.5 207.0M1488.3 208.1L1495.3 204.2M1498.6 199.5L1503.4 193.0M1506.4 188.4L1510.8 181.7M1513.9 177.0L1517.5 169.9M1520.1 164.9L1524.9 158.6M1528.4 154.3L1533.5 148.1M1537.7 144.4L1544.9 140.8M1548.3 136.5L1554.6 131.5M1560.7 132.2L1567.8 135.9M1570.9 140.7L1575.8 147.1M1580.0 150.7L1585.9 156.1M1589.9 160.0L1595.8 165.4M1600.2 168.8L1606.5 173.8M1611.0 177.0L1616.7 182.7M1619.9 187.4L1625.8 192.7M1630.4 196.1L1638.3 197.6M1643.9 196.2L1651.7 194.8M1657.3 194.1L1664.6 190.6M1668.6 186.7L1675.8 183.0M1681.0 181.2L1688.5 178.3M1693.8 176.5L1701.7 175.2M1708.4 175.0L1714.1 174.3" stroke="#000000"/>
<path d="M189.4 628.1L192.9 620.9M195.7 616.0L200.9 610.0M205.2 606.1L212.9 603.9M217.0 607.8L218.6 615.7M219.6 621.2L221.0 629.1M221.8 634.6L223.0 642.5M223.8 648.0L225.1 655.9M226.0 661.4L227.5 669.2M228.5 674.7L229.6 682.6M230.6 688.1L232.2 695.9M233.3 701.4L234.5 709.3M235.3 714.8L236.2 722.8M236.9 728.3L237.8 736.3M238.3 741.8L238.8 749.8M239.2 755.4L239.8 763.3M240.2 768.9L241.0 776.8M241.5 782.4L242.3 790.4M242.9 795.9L244.0 803.8M244.6 809.3L245.3 817.3M246.0 822.8L247.1 830.8M247.8 836.3L248.4 844.3M249.0 849.8L250.2 857.7M251.0 863.2L252.1 871.2M253.0 876.7L254.5 884.5M255.5 890.0L256.9 897.9M257.9 903.3L259.3 911.2M260.3 916.7L261.7 924.6M263.1 930.0L265.4 937.6M266.9 943.0L269.3 950.6M271.6 955.7L275.9 962.5M279.4 959.6L281.3 951.9M282.9 946.5L285.1 938.8M286.5 933.4L288.3 925.6M289.6 920.2L291.4 912.4M292.6 907.0L294.0 899.1M294.9 893.6L296.1 885.7M296.8 880.2L297.7 872.2M298.4 866.7L299.5 858.8M300.1 853.2L301.0 845.3M301.5 839.7L302.2 831.8M302.7 826.2L303.5 818.3M304.0 812.7L304.7 804.8M305.2 799.2L306.0 791.2M306.5 785.7L307.2 777.7M307.7 772.2L308.5 764.2M308.9 758.7L309.3 750.7M309.6 745.1L310.0 737.1M310.2 731.6L311.2 723.6M312.2 718.1L313.6 710.3M314.7 704.8L316.2 696.9M317.3 691.5L319.0 683.6M320.2 678.2L321.6 670.3M322.3 664.8L323.3 656.9M324.0 651.3L325.2 643.4M326.1 637.9L327.4 630.0M328.3 624.5L329.9 616.7M331.4 611.3L333.6 603.7M335.4 598.3L340.2 591.9M345.7 590.7L352.0 595.7M355.2 600.4L359.0 607.4M360.9 612.7L362.7 620.5M363.8 625.9L365.3 633.8M366.3 639.3L367.7 647.1M368.7 652.6L370.1 660.5M371.3 665.9L373.3 673.7M374.6 679.1L376.4 686.9M377.6 692.3L379.4 700.1M380.6 705.6L382.1 713.4M382.9 718.9L383.9 726.9M384.6 732.4L385.7 740.3M386.7 745.8L388.3 753.7M389.1 759.2L390.2 767.1M391.0 772.6L392.5 780.4M393.7 785.9L395.5 793.7M396.7 799.1L398.5 806.9M399.8 812.4L401.9 820.1M404.3 825.1L408.4 832.0M413.2 833.8L416.8 826.6M418.5 821.3L420.4 813.5M421.0 807.9L422.5 800.1M423.6 794.6L424.7 786.7M425.4 781.2L426.8 773.3M427.9 767.8L429.0 759.9M429.6 754.4L431.0 746.5M432.1 741.0L433.4 733.1M434.1 727.6L435.2 719.7M436.0 714.2L437.2 706.3M438.0 700.7L438.7 692.8M439.1 687.2L440.1 679.3M441.0 673.8L441.8 665.8M442.2 660.3L443.2 652.3M444.0 646.8L444.9 638.9M445.3 633.3L446.5 625.4M447.6 619.9L449.4 612.1M450.8 606.7L452.6 598.9M453.8 593.5L455.6 585.7M457.0 580.3L458.8 572.5M459.9 567.1L461.9 559.3M463.5 554.0L466.4 546.5M468.2 540.4L475.6 537.4M480.2 542.2L486.8 546.8M490.7 550.8L494.3 557.9M496.3 563.1L499.1 570.6M500.7 576.0L503.0 583.6M504.6 589.0L507.4 596.5M509.4 601.7L512.8 608.9M515.1 614.0L517.5 621.6M518.9 627.0L521.0 634.7M522.6 640.1L525.2 647.7M527.7 652.7L533.0 658.7M538.3 661.2L546.0 659.0M549.9 654.7L552.6 647.2M553.8 641.7L555.1 633.8M556.2 628.4L558.0 620.6M559.3 615.2L561.1 607.4M562.3 601.9L564.2 594.1M565.6 588.8L567.8 581.1M569.2 575.7L571.2 567.9M572.3 562.5L573.4 554.5M574.1 549.0L575.2 541.1M576.1 535.6L577.6 527.8M578.5 522.2L579.5 514.3M580.3 508.8L581.8 500.9M583.3 495.6L585.9 488.0M587.8 482.8L590.3 475.2M592.0 469.9L594.2 462.2M595.5 456.8L597.3 449.0M598.5 443.5L600.4 435.8M604.2 431.4L612.2 430.9M617.7 432.6L624.3 437.1M627.6 441.7L630.5 449.1M632.5 454.3L635.5 461.8M637.4 467.0L640.2 474.5M642.5 479.6L646.0 486.8M648.0 491.9L650.6 499.5M652.4 504.8L655.1 512.3M657.0 517.5L660.1 524.9M663.3 529.5L669.4 534.8M673.9 538.1L681.1 541.6M686.4 539.6L692.1 533.9M696.2 530.2L702.1 524.7M705.4 520.3L709.8 513.6M713.6 509.5L718.9 503.5M722.7 499.4L728.3 493.8M732.6 490.1L739.0 485.4M743.7 482.4L750.6 478.3M755.7 476.0L763.1 473.1M768.2 470.9L775.5 467.6M780.8 466.0L788.7 464.6M794.2 463.7L802.2 462.9M807.8 463.2L815.8 463.1M821.3 462.1L829.0 460.0M834.1 457.7L841.1 453.8M845.8 450.8L852.4 446.2M856.7 442.8L863.0 437.8M867.5 434.5L874.2 430.2M879.0 427.3L886.4 424.1M892.0 424.1L899.8 426.1M905.1 427.8L912.1 431.7M916.1 435.6L921.3 441.7M924.6 446.2L928.9 453.0M931.4 457.9L934.9 465.2M937.3 470.2L940.9 477.3M943.6 482.2L947.5 489.2M950.1 494.1L954.3 500.9M957.6 506.3L965.3 508.1M968.6 502.2L973.4 495.8M977.0 491.6L982.0 485.3M984.8 480.4L989.9 474.3M995.6 473.3L1003.6 474.3M1009.0 475.7L1017.0 476.1M1022.7 475.3L1028.6 469.9M1031.9 465.4L1037.9 460.0M1042.6 457.1L1049.8 453.7M1054.9 451.3L1062.1 447.9M1066.9 445.0L1073.1 440.0M1077.8 437.0L1084.8 433.1M1089.3 429.8L1094.9 424.1M1098.6 419.9L1103.6 413.6M1106.3 408.8L1109.6 401.5M1111.7 396.3L1115.2 389.1M1117.7 384.1L1120.6 376.7M1123.5 371.9L1129.5 366.6M1134.2 363.6L1141.4 360.0M1146.5 357.9L1154.0 355.1M1158.7 352.0L1166.2 349.2M1171.1 352.7L1176.1 358.8M1179.0 363.6L1182.8 370.6M1185.4 375.6L1188.9 382.8M1191.4 387.7L1195.0 394.9M1197.2 400.0L1200.4 407.3M1202.7 412.4L1206.0 419.7M1208.4 424.7L1212.1 431.9M1214.5 436.9L1217.8 444.1M1219.6 449.4L1221.7 457.1M1223.9 462.3L1227.6 469.4M1230.2 474.3L1234.1 481.3M1236.5 486.3L1240.9 493.0M1246.4 494.7L1254.0 492.2M1258.2 488.4L1263.6 482.5M1267.2 478.2L1271.9 471.8M1275.1 467.2L1279.5 460.5M1282.6 455.8L1287.0 449.2M1290.1 444.6L1294.6 437.9M1297.5 433.2L1301.6 426.3M1303.9 421.3L1307.4 414.1M1310.6 409.5L1315.3 403.0M1318.6 398.5L1323.7 392.3M1326.6 387.1L1333.8 383.8M1339.1 387.3L1345.9 391.6M1350.4 394.8L1356.9 399.5M1361.5 402.6L1368.4 406.7M1373.5 409.0L1380.6 412.6M1385.2 415.7L1392.1 419.9M1396.9 422.7L1404.4 425.6M1410.0 426.2L1418.0 425.9M1423.4 424.6L1431.4 423.8M1437.0 424.5L1444.9 425.5M1450.4 426.2L1458.3 427.4M1464.0 427.7L1471.6 430.2M1475.9 433.8L1481.8 439.3M1485.5 443.4L1490.6 449.6M1494.1 454.0L1498.9 460.3M1502.2 464.8L1507.0 471.2M1510.2 475.8L1516.1 481.2M1520.9 484.6L1528.7 485.9M1533.2 481.8L1539.3 476.7M1544.3 474.1L1551.4 470.4M1556.7 468.7L1563.7 464.8M1567.7 460.8L1572.5 454.4M1575.1 449.4L1578.7 442.3M1581.2 437.3L1584.7 430.2M1587.3 425.2L1590.8 418.0M1592.6 412.7L1596.9 406.0M1602.2 402.6L1609.5 406.0M1612.9 410.7L1617.7 417.1M1620.2 422.1L1623.2 429.6M1624.5 435.0L1626.9 442.6M1629.0 447.8L1632.2 455.1M1634.6 460.1L1637.9 467.4M1640.1 472.6L1642.8 480.1M1644.2 485.5L1646.6 493.1M1648.8 498.2L1651.9 505.6M1653.8 510.9L1656.9 518.2M1659.3 523.3L1662.8 530.5M1664.6 535.8L1669.2 542.4M1673.9 545.7L1681.5 548.1M1687.3 547.2L1694.2 543.0M1697.3 538.2L1703.3 532.9M1709.3 529.6L1714.1 526.8" stroke="#0000ff"/>
<path d="M189.4 800.0L191.2 792.2M192.4 786.8L193.8 778.9M194.7 773.4L196.8 765.7M198.4 760.3L200.6 752.6M201.9 747.2L203.1 739.3M203.7 733.8L204.8 725.8M205.6 720.3L206.2 712.4M206.6 706.8L208.3 699.0M209.9 693.1L216.9 689.2M221.6 693.4L225.4 700.4M227.5 705.6L229.4 713.3M230.7 718.8L232.6 726.5M233.9 731.9L235.9 739.7M237.1 745.1L238.7 753.0M239.7 758.4L240.7 766.4M241.5 771.9L243.1 779.7M244.1 785.2L245.1 793.1M246.0 798.6L247.5 806.5M248.6 812.0L250.0 819.8M251.0 825.3L252.5 833.2M253.4 838.7L254.5 846.6M255.3 852.1L256.3 860.1M257.3 865.5L259.4 873.3M260.4 878.7L261.4 886.7M262.1 892.2L263.2 900.1M264.2 905.6L265.6 913.5M266.5 919.0L267.6 926.9M268.3 932.4L269.6 940.3M270.5 945.8L271.8 953.7M272.8 959.2L274.3 967.0M275.3 972.5L276.7 980.4M277.8 985.9L279.9 993.6M281.9 998.8L285.6 1005.9M290.2 1007.1L293.8 999.9M295.3 994.5L297.1 986.7M298.2 981.3L299.7 973.4M300.9 968.0L302.4 960.1M303.2 954.6L304.5 946.7M305.6 941.2L307.0 933.4M307.7 927.8L308.8 919.9M309.8 914.4L311.2 906.6M311.9 901.0L313.2 893.1M314.2 887.7L315.6 879.8M316.6 874.3L318.1 866.4M319.1 861.0L320.6 853.1M321.7 847.6L323.2 839.8M324.4 834.3L326.0 826.5M327.1 821.1L328.8 813.2M330.0 807.8L331.8 800.0M333.1 794.6L335.3 786.9M336.9 781.6L340.0 774.2M342.1 768.8L347.9 763.2M353.6 765.7L359.1 771.5M361.3 776.7L365.0 783.8M368.3 788.3L372.8 794.9M375.6 799.8L379.4 806.8M381.7 811.9L385.1 819.1M387.6 824.1L391.3 831.2M393.4 836.3L397.6 843.2M401.0 847.7L407.2 852.8M413.3 855.2L419.7 850.4M420.6 844.3L423.5 836.8M425.6 831.6L428.1 824.0M429.5 818.7L431.7 811.0M433.2 805.6L435.4 797.9M437.0 792.6L439.2 784.9M440.6 779.5L443.0 771.8M445.0 766.6L447.3 759.0M448.3 753.5L451.1 746.0M453.5 740.8L458.5 734.6M463.3 731.3L471.2 730.0M476.9 731.9L482.6 737.4M485.0 742.6L489.2 749.4M492.3 754.1L495.3 761.5M496.4 767.0L498.5 774.7M500.3 780.0L502.2 787.7M503.1 793.2L504.5 801.1M505.4 806.6L507.0 814.4M508.4 819.8L510.2 827.6M511.4 833.1L513.8 840.7M515.9 845.9L519.7 852.9M522.3 859.9L530.1 858.4M532.0 851.6L534.8 844.1M535.3 838.4L539.0 831.3M543.0 827.3L547.9 821.0M551.5 816.7L554.5 809.3M555.6 803.8L557.2 795.9M557.8 790.3L561.0 783.0M563.9 778.2L566.4 770.6M567.5 765.1L569.3 757.3M570.8 751.9L573.0 744.3M574.7 738.9L577.2 731.3M579.1 726.1L581.8 718.6M583.7 713.3L587.0 706.1M589.5 701.0L594.1 694.5M598.1 690.6L604.6 685.9M609.7 686.1L617.0 689.2M622.6 690.5L629.0 695.4M632.5 699.8L636.8 706.5M638.9 711.7L641.9 719.1M644.1 724.2L646.9 731.7M648.6 737.0L651.1 744.6M652.8 749.9L655.3 757.5M657.3 762.7L660.3 770.1M662.9 775.0L666.7 782.0M668.5 787.3L671.3 794.8M673.1 800.1L675.9 807.6M678.1 812.7L681.0 820.2M682.8 825.4L685.6 833.0M687.5 838.2L690.7 845.5M693.1 850.6L696.9 857.6M699.7 862.4L705.6 867.9M711.0 870.8L718.2 867.4M721.8 862.8L727.8 857.5M731.8 853.6L735.9 846.7M738.0 841.5L741.1 834.1M743.0 828.9L746.2 821.6M748.7 816.6L751.8 809.2M753.8 804.0L758.4 797.4M762.3 793.4L766.5 786.6M768.7 781.4L773.7 775.2M777.9 771.3L785.2 768.2M790.7 766.8L798.7 766.4M802.6 770.7L805.9 778.0M807.9 783.2L810.6 790.7M812.3 796.0L814.6 803.7M815.7 809.1L817.1 817.0M818.0 822.5L819.5 830.4M820.5 835.9L821.9 843.7M822.9 849.2L824.5 857.0M825.6 862.5L827.0 870.4M828.0 875.9L829.6 883.7M830.6 889.2L832.1 897.1M833.0 902.5L834.5 910.4M835.5 915.9L836.9 923.8M837.9 929.2L839.4 937.1M840.7 942.5L842.8 950.2M844.6 955.5L847.6 962.9M849.8 968.1L853.1 975.3M856.7 979.9L864.1 983.0M869.0 979.8L873.5 973.2M875.6 968.0L878.8 960.6M881.1 955.6L884.4 948.3M886.6 943.2L889.5 935.7M891.4 930.5L893.8 922.9M895.4 917.5L897.4 909.8M898.2 904.2L899.6 896.4M901.6 891.2L904.8 883.8M906.8 878.6L909.8 871.2M911.9 866.0L914.8 858.6M916.9 853.4L919.9 846.0M921.2 840.5L924.6 833.3M930.3 831.0L937.6 834.3M941.2 838.9L944.8 846.1M946.0 851.6L949.2 858.9M952.1 863.7L955.3 871.0M957.2 876.3L959.6 883.9M961.0 889.3L962.7 897.1M963.5 902.6L965.1 910.5M966.6 915.9L968.3 923.7M969.2 929.2L970.6 937.0M971.7 942.5L973.4 950.3M974.7 955.8L976.2 963.6M977.0 969.1L978.7 976.9M980.1 982.3L982.0 990.1M983.4 995.5L985.3 1003.3M986.5 1008.7L988.1 1016.6M988.9 1022.1L990.6 1029.9M992.2 1035.2L994.7 1042.8M996.2 1048.3L1000.8 1054.8M1005.2 1058.8L1013.0 1060.7M1018.7 1058.2L1023.1 1051.5M1023.9 1045.8L1026.3 1038.1M1028.0 1032.8L1029.9 1025.1M1031.0 1019.6L1032.6 1011.8M1033.8 1006.3L1035.7 998.5M1037.1 993.2L1039.1 985.4M1040.5 980.0L1042.5 972.3M1044.0 966.9L1045.8 959.1M1047.0 953.7L1048.5 945.8M1049.4 940.3L1050.8 932.4M1051.7 926.9L1053.4 919.1M1054.9 913.8L1056.5 905.9M1057.5 900.4L1059.3 892.6M1060.8 887.3L1063.2 879.6M1065.0 874.4L1067.8 866.9M1070.0 861.8L1072.9 854.3M1074.8 849.1L1078.3 841.9M1080.4 834.1L1088.1 836.1M1088.3 843.6L1091.5 851.0M1093.6 856.1L1097.2 863.3M1099.9 868.2L1103.0 875.6M1104.8 880.8L1107.6 888.3M1109.5 893.6L1112.1 901.1M1113.9 906.4L1116.5 914.0M1118.3 919.2L1120.9 926.8M1122.8 932.1L1125.1 939.7M1126.6 945.1L1129.1 952.7M1131.0 957.9L1134.2 965.2M1136.8 970.2L1140.4 977.3M1142.3 983.5L1149.9 985.9M1154.8 981.6L1159.3 974.9M1161.8 970.0L1165.2 962.7M1167.4 957.6L1170.7 950.3M1172.8 945.1L1175.6 937.6M1177.4 932.4L1179.5 924.6M1180.8 919.2L1182.9 911.5M1184.5 906.2L1186.9 898.5M1188.9 893.4L1192.2 886.1M1195.8 881.6L1203.4 878.9M1209.3 878.7L1216.1 882.9M1219.0 888.0L1221.1 895.7M1222.2 901.1L1224.1 908.9M1225.3 914.3L1227.0 922.2M1228.1 927.6L1229.7 935.4M1230.9 940.9L1232.7 948.7M1234.0 954.1L1235.7 961.9M1236.8 967.4L1238.3 975.2M1239.2 980.7L1240.8 988.6M1241.8 994.1L1242.9 1002.0M1243.7 1007.5L1245.0 1015.4M1246.0 1020.9L1247.3 1028.8M1248.2 1034.3L1249.2 1042.2M1249.9 1047.7L1251.4 1055.6M1252.5 1061.0L1254.0 1068.9M1255.1 1074.4L1256.9 1082.2M1258.5 1087.5L1261.2 1095.0M1263.4 1100.2L1266.8 1107.4M1270.4 1112.6L1278.4 1112.0M1281.5 1106.6L1284.6 1099.2M1286.5 1093.9L1288.7 1086.3M1290.1 1080.9L1292.0 1073.1M1293.1 1067.6L1294.5 1059.8M1295.5 1054.3L1297.0 1046.4M1298.0 1040.9L1299.4 1033.1M1300.4 1027.6L1301.9 1019.7M1303.1 1014.3L1305.0 1006.5M1305.9 1001.0L1307.1 993.1M1308.1 987.6L1309.6 979.8M1310.6 974.3L1312.1 966.4M1312.9 960.9L1314.1 953.0M1315.0 947.5L1316.1 939.6M1316.8 934.1L1317.8 926.1M1318.7 920.6L1320.2 912.8M1321.1 907.3L1322.2 899.3M1323.1 893.8L1324.6 886.0M1325.6 880.5L1327.0 872.6M1328.2 867.2L1330.0 859.4M1331.2 854.0L1332.9 846.1M1334.3 840.7L1336.6 833.1M1338.2 827.7L1341.0 820.2M1343.6 815.2L1349.2 809.5M1355.0 810.1L1361.2 815.2M1363.9 820.2L1367.4 827.4M1370.0 832.3L1373.4 839.6M1375.2 844.8L1377.5 852.5M1378.9 857.9L1380.7 865.7M1381.9 871.1L1383.6 878.9M1385.0 884.3L1386.8 892.1M1387.8 897.6L1389.3 905.5M1390.6 910.9L1392.5 918.7M1393.7 924.1L1395.5 931.9M1396.6 937.4L1398.1 945.2M1399.4 950.6L1401.2 958.4M1402.1 963.9L1403.6 971.8M1404.7 977.2L1406.6 985.0M1407.9 990.4L1410.1 998.1M1412.0 1003.4L1416.1 1010.3M1420.3 1014.8L1428.2 1015.8M1432.3 1010.9L1436.9 1004.4M1439.1 999.2L1441.7 991.7M1443.2 986.3L1445.3 978.6M1446.7 973.2L1448.5 965.4M1449.8 960.0L1451.5 952.2M1452.7 946.7L1454.4 938.9M1455.4 933.4L1456.9 925.6M1458.0 920.1L1459.7 912.3M1461.2 906.9L1463.2 899.2M1464.6 893.8L1466.5 886.0M1467.9 880.6L1469.8 872.9M1470.8 867.4L1472.8 859.6M1474.7 854.4L1477.8 847.0M1479.8 841.8L1483.9 834.9M1487.6 830.6L1494.3 826.2M1500.3 825.1L1507.5 828.7M1509.7 834.2L1513.3 841.4M1515.7 846.4L1518.9 853.7M1521.5 858.7L1524.7 866.0M1526.5 871.3L1529.0 878.9M1530.5 884.3L1532.6 892.0M1533.7 897.5L1536.3 905.0M1538.6 910.2L1543.5 916.5M1548.0 920.1L1555.6 922.5M1561.1 920.3L1567.8 916.0M1572.1 912.4L1577.3 906.3M1580.0 901.4L1584.0 894.5M1586.9 889.7L1590.5 882.6M1592.8 877.5L1595.8 870.1M1597.5 864.8L1600.3 857.3M1602.3 852.1L1605.5 844.7M1607.5 839.5L1611.9 832.9M1616.3 829.3L1623.2 825.2M1628.5 822.2L1636.4 823.6M1640.0 828.5L1645.2 834.5M1648.6 838.9L1652.9 845.7M1655.5 850.6L1658.9 857.8M1661.0 863.0L1664.0 870.4M1665.5 875.9L1669.7 882.6M1674.2 886.1L1680.3 891.3M1684.3 895.2L1691.0 899.6M1696.0 902.1L1703.6 904.7M1711.1 905.9L1715.0 906.5" stroke="#ff0000"/>
</g>
<g stroke="#262626" stroke-width="2" fill="none" shape-rendering="crispEdges">
<line x1="189.0" y1="50.0" x2="189.0" y2="1409.0"/>
<line x1="188.0" y1="1408.0" x2="1714.0" y2="1408.0"/>
<line x1="443.0" y1="1408.0" x2="443.0" y2="1392.0"/>
<line x1="760.0" y1="1408.0" x2="760.0" y2="1392.0"/>
<line x1="1078.0" y1="1408.0" x2="1078.0" y2="1392.0"/>
<line x1="1395.0" y1="1408.0" x2="1395.0" y2="1392.0"/>
<line x1="1713.0" y1="1408.0" x2="1713.0" y2="1392.0"/>
<line x1="189.0" y1="956.0" x2="205.0" y2="956.0"/>
<line x1="189.0" y1="503.0" x2="205.0" y2="503.0"/>
<line x1="189.0" y1="51.0" x2="205.0" y2="51.0"/>
</g>
<text transform="translate(188.50 1482.30) scale(1 1.030)" font-size="54.17px" text-anchor="middle" fill="#262626">0.6</text>
<text transform="translate(442.50 1482.30) scale(1 1.030)" font-size="54.17px" text-anchor="middle" fill="#262626">1</text>
<text transform="translate(760.00 1482.30) scale(1 1.030)" font-size="54.17px" text-anchor="middle" fill="#262626">1.5</text>
<text transform="translate(1077.50 1482.30) scale(1 1.030)" font-size="54.17px" text-anchor="middle" fill="#262626">2</text>
<text transform="translate(1395.00 1482.30) scale(1 1.030)" font-size="54.17px" text-anchor="middle" fill="#262626">2.5</text>
<text transform="translate(1712.50 1482.30) scale(1 1.030)" font-size="54.17px" text-anchor="middle" fill="#262626">3</text>
<text transform="translate(170.20 1429.00) scale(1 1.030)" font-size="54.17px" text-anchor="end" fill="#262626">10</text>
<text transform="translate(170.20 976.67) scale(1 1.030)" font-size="54.17px" text-anchor="end" fill="#262626">15</text>
<text transform="translate(170.20 524.33) scale(1 1.030)" font-size="54.17px" text-anchor="end" fill="#262626">20</text>
<text transform="translate(170.20 72.00) scale(1 1.030)" font-size="54.17px" text-anchor="end" fill="#262626">25</text>
<text transform="translate(951.00 1560.00) scale(1 1.030)" font-size="59.60px" text-anchor="middle" fill="#262626">Frequency [GHz]</text>
<text transform="translate(86.20 729.50) rotate(-90) scale(1 1.030)" font-size="59.60px" text-anchor="middle" fill="#262626">RCS [dBsm]</text>
<rect x="332.0" y="985.0" width="516.0" height="384.0" fill="#ffffff" stroke="#262626" stroke-width="2" shape-rendering="crispEdges"/>
<line x1="341" y1="1021.0" x2="444.3" y2="1021.0" stroke="#000000" stroke-width="8" shape-rendering="crispEdges"/>
<text transform="translate(452.00 1038.90) scale(1 1.030)" font-size="48.75px" text-anchor="start" fill="#000000">VNA: R= 6.82 m</text>
<line x1="341" y1="1083.0" x2="444.3" y2="1083.0" stroke="#0000ff" stroke-width="8" shape-rendering="crispEdges"/>
<text transform="translate(452.00 1101.60) scale(1 1.030)" font-size="48.75px" text-anchor="start" fill="#000000">VNA: R= 5.22 m</text>
<line x1="341" y1="1146.0" x2="444.3" y2="1146.0" stroke="#ff0000" stroke-width="8" shape-rendering="crispEdges"/>
<text transform="translate(452.00 1164.30) scale(1 1.030)" font-size="48.75px" text-anchor="start" fill="#000000">VNA: R= 3.27 m</text>
<line x1="341" y1="1208.0" x2="444.3" y2="1208.0" stroke="#000000" stroke-width="8" shape-rendering="crispEdges" stroke-dasharray="8 5.57"/>
<text transform="translate(452.00 1227.00) scale(1 1.030)" font-size="48.75px" text-anchor="start" fill="#000000">HFSS: R= 6.82 m</text>
<line x1="341" y1="1271.0" x2="444.3" y2="1271.0" stroke="#0000ff" stroke-width="8" shape-rendering="crispEdges" stroke-dasharray="8 5.57"/>
<text transform="translate(452.00 1289.70) scale(1 1.030)" font-size="48.75px" text-anchor="start" fill="#000000">HFSS: R= 5.22 m</text>
<line x1="341" y1="1333.0" x2="444.3" y2="1333.0" stroke="#ff0000" stroke-width="8" shape-rendering="crispEdges" stroke-dasharray="8 5.57"/>
<text transform="translate(452.00 1352.40) scale(1 1.030)" font-size="48.75px" text-anchor="start" fill="#000000">HFSS: R= 3.27 m</text>
</svg>
</body></html>
